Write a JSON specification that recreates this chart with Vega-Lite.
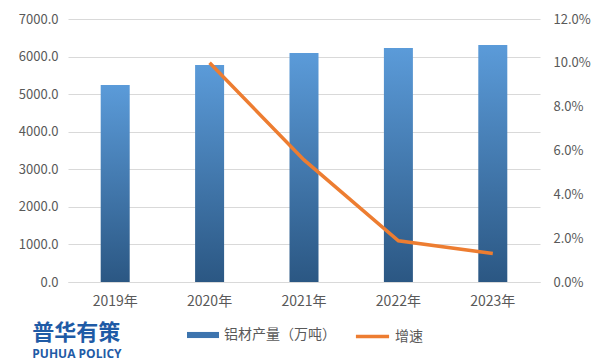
{
  "$schema": "https://vega.github.io/schema/vega-lite/v6.json",
  "width": 472,
  "height": 263,
  "autosize": {"type": "none"},
  "padding": {"left": 68, "top": 19, "right": 62, "bottom": 80},
  "background": "white",
  "config": {
    "view": {"stroke": null},
    "font": "Noto Sans CJK SC",
    "axis": {"labelColor": "#595959", "labelFontSize": 13, "labelFont": "Noto Sans CJK SC"},
    "legend": {"layout": {"bottom": {"anchor": "middle", "direction": "horizontal", "margin": 18}}}
  },
  "title": {
    "text": "普华有策",
    "subtitle": "PUHUA POLICY",
    "orient": "bottom",
    "anchor": "start",
    "dx": 14,
    "offset": -21,
    "font": "Noto Sans CJK SC",
    "fontSize": 22,
    "fontWeight": "bold",
    "color": "#1F5BA6",
    "subtitleFont": "Open Sans",
    "subtitleFontSize": 12,
    "subtitleFontWeight": "bold",
    "subtitleColor": "#1F5BA6",
    "subtitlePadding": 4
  },
  "data": {"values": [
    {"year": "2019年", "prod": 5243, "growth": null},
    {"year": "2020年", "prod": 5776, "growth": 0.100},
    {"year": "2021年", "prod": 6095, "growth": 0.0557},
    {"year": "2022年", "prod": 6228, "growth": 0.0188},
    {"year": "2023年", "prod": 6308, "growth": 0.0130}
  ]},
  "encoding": {
    "x": {"field": "year", "type": "ordinal", "scale": {"paddingInner": 0, "paddingOuter": 0},
      "axis": {"title": null, "labelAngle": 0, "ticks": false, "domainColor": "#D9D9D9", "labelPadding": 12, "labelFontSize": 14}}
  },
  "layer": [
    {
      "encoding": {
        "y": {"field": "prod", "type": "quantitative", "scale": {"domain": [0, 7000]},
          "axis": {"title": null, "format": ".1f", "values": [0,1000,2000,3000,4000,5000,6000,7000], "grid": true, "gridColor": "#D9D9D9", "domain": false, "ticks": false, "labelPadding": 10}}
      },
      "layer": [
        {
          "mark": {"type": "bar", "size": 29, "fill": {"gradient": "linear", "x1": 0, "y1": 0, "x2": 0, "y2": 1, "stops": [{"offset": 0, "color": "#5B9BD9"}, {"offset": 1, "color": "#2B5783"}]}}
        },
        {
          "mark": {"type": "bar", "size": 29, "opacity": 0},
          "encoding": {
            "fill": {"datum": "铝材产量（万吨）", "type": "nominal",
              "scale": {"range": ["#3D74AE"]},
              "legend": {"orient": "bottom", "title": null, "symbolType": "M-1,-0.19H1V0.19H-1Z", "symbolSize": 1024, "symbolOpacity": 1, "labelFontSize": 14, "labelColor": "#595959", "labelOffset": 4, "offset": 10}}
          }
        }
      ]
    },
    {
      "mark": {"type": "line", "strokeWidth": 3.5},
      "transform": [{"filter": "datum.growth != null"}],
      "encoding": {
        "y": {"field": "growth", "type": "quantitative", "scale": {"domain": [0, 0.12]},
          "axis": {"title": null, "orient": "right", "format": ".1%", "values": [0,0.02,0.04,0.06,0.08,0.1,0.12], "grid": false, "domain": false, "ticks": false, "labelPadding": 13}},
        "stroke": {"datum": "增速", "type": "nominal", "scale": {"range": ["#ED7D31"]},
          "legend": {"orient": "bottom", "title": null, "symbolType": "stroke", "symbolSize": 1100, "symbolStrokeWidth": 3.5, "labelFontSize": 14, "labelColor": "#595959", "labelOffset": 4, "offset": 10}}
      }
    }
  ],
  "resolve": {"scale": {"y": "independent", "fill": "independent", "stroke": "independent"}}
}
